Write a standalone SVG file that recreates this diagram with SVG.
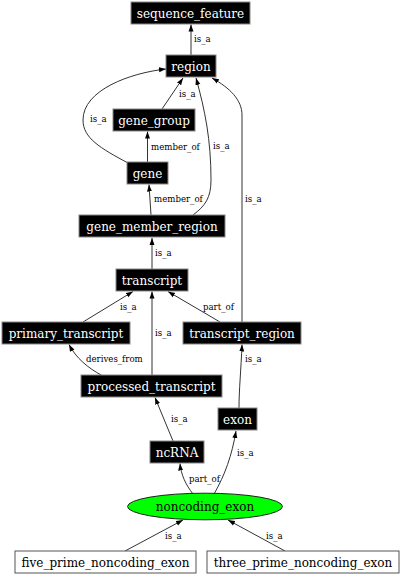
<svg xmlns="http://www.w3.org/2000/svg" width="402" height="576" viewBox="0 0 402 576">
<defs>
<marker id="arr" markerUnits="userSpaceOnUse" markerWidth="8" markerHeight="6" refX="7" refY="3" orient="auto">
<path d="M0,0.5 L7,3 L0,5.5 z" fill="#000"/>
</marker>
<style>
.n rect{fill:#000;stroke:#888;stroke-width:1}
.n text{fill:#fff;font-family:"DejaVu Serif",serif;font-size:12px;text-anchor:middle}
.w rect{fill:#fff;stroke:#555;stroke-width:1}
.w text{fill:#000;font-family:"DejaVu Serif",serif;font-size:12px;text-anchor:middle}
.e path{fill:none;stroke:#333;stroke-width:1;marker-end:url(#arr)}
.e text{fill:#000;font-family:"DejaVu Serif",serif;font-size:8.6px}
</style>
</defs>
<rect width="402" height="576" fill="#fff"/>
<g id="connectors" class="e">
<path d="M191,55 L191,24.5"/>
<path d="M162,109 L183,78"/>
<path d="M147.5,162 L147.5,131.5"/>
<path d="M128,163 C100,148 83,138 83,120 C83,90 130,73 166,69"/>
<path d="M193,215 C205,206 211,198 211,180 C211,140 205,110 196,78"/>
<path d="M151,215 L149,184.5"/>
<path d="M242,322 L242,115 C242,100 230,88 212,78"/>
<path d="M152,269 L152,238"/>
<path d="M83,322 L133,291.5"/>
<path d="M220,322 L168,291.5"/>
<path d="M152,375 L152,291.5"/>
<path d="M102,375.5 C88,368 76,358 69,344.5"/>
<path d="M239,408 C239,390 241,370 242,344.5"/>
<path d="M173,441 L155,397.5"/>
<path d="M193,494 C186,485 181,475 180,463.5"/>
<path d="M214,494 C225,475 232,455 236,431"/>
<path d="M125,551 L183,520"/>
<path d="M285,551 L228,520"/>
<text x="194" y="42">is_a</text>
<text x="179" y="97">is_a</text>
<text x="151" y="149.5">member_of</text>
<text x="90" y="122">is_a</text>
<text x="213" y="149">is_a</text>
<text x="154" y="202">member_of</text>
<text x="245" y="202">is_a</text>
<text x="155" y="256">is_a</text>
<text x="120" y="309.5">is_a</text>
<text x="203" y="309.5">part_of</text>
<text x="155" y="336">is_a</text>
<text x="86" y="362">derives_from</text>
<text x="245" y="362">is_a</text>
<text x="171" y="422">is_a</text>
<text x="189" y="482">part_of</text>
<text x="237" y="455.5">is_a</text>
<text x="165" y="538.5">is_a</text>
<text x="266" y="538.5">is_a</text>
</g>
<g id="sequence_feature" class="n"><rect x="131" y="2" width="119" height="22"/><text x="190.5" y="17.5">sequence_feature</text></g>
<g id="region" class="n"><rect x="166" y="55" width="50" height="22"/><text x="191" y="70.5">region</text></g>
<g id="gene_group" class="n"><rect x="113" y="109" width="82" height="22"/><text x="154" y="124.5">gene_group</text></g>
<g id="gene" class="n"><rect x="127" y="162" width="41" height="22"/><text x="147.5" y="177.5">gene</text></g>
<g id="gene_member_region" class="n"><rect x="79" y="215" width="146" height="22"/><text x="152" y="230.5">gene_member_region</text></g>
<g id="transcript" class="n"><rect x="116" y="269" width="72" height="22"/><text x="152" y="284.5">transcript</text></g>
<g id="primary_transcript" class="n"><rect x="2" y="322" width="128" height="22"/><text x="66" y="337.5">primary_transcript</text></g>
<g id="transcript_region" class="n"><rect x="183" y="322" width="118" height="22"/><text x="242" y="337.5">transcript_region</text></g>
<g id="processed_transcript" class="n"><rect x="81" y="375" width="141" height="22"/><text x="151.5" y="390.5">processed_transcript</text></g>
<g id="exon" class="n"><rect x="218" y="408" width="39" height="22"/><text x="237.5" y="423.5">exon</text></g>
<g id="ncRNA" class="n"><rect x="150" y="441" width="54" height="22"/><text x="177" y="456.5">ncRNA</text></g>
<g id="noncoding_exon"><ellipse cx="205" cy="506.5" rx="77.5" ry="13.3" fill="#00ff00" stroke="#222"/><text x="205" y="511" style="fill:#000;font-family:'DejaVu Serif',serif;font-size:12px;text-anchor:middle">noncoding_exon</text></g>
<g id="five_prime_noncoding_exon" class="w"><rect x="15" y="551" width="181" height="22"/><text x="105.5" y="566.5">five_prime_noncoding_exon</text></g>
<g id="three_prime_noncoding_exon" class="w"><rect x="207" y="551" width="192" height="22"/><text x="303" y="566.5">three_prime_noncoding_exon</text></g>
</svg>
